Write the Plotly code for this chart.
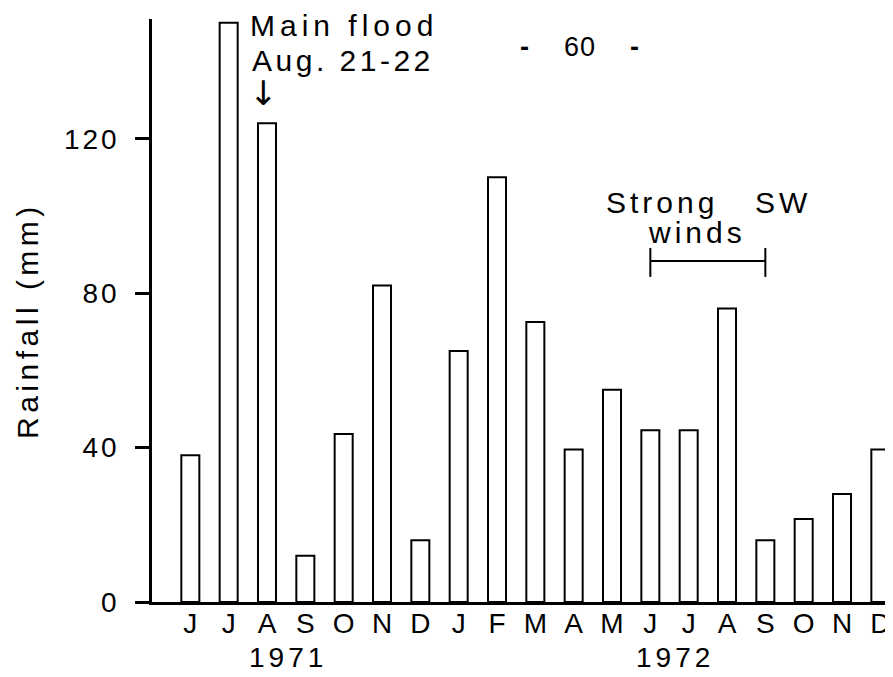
import plotly.graph_objects as go
import numpy as np

# ---- data ----
months = ["J", "J", "A", "S", "O", "N", "D",
          "J", "F", "M", "A", "M", "J", "J", "A", "S", "O", "N", "D"]
rainfall_mm = [38, 150, 124, 12, 43.5, 82, 16,
               65, 110, 72.5, 39.5, 55, 44.5, 44.5, 76, 16, 21.5, 28, 39.5]
year_labels = ["1971", "1972"]
y_ticks = [0, 40, 80, 120]

# ---- layout geometry (page body has an 8px margin) ----
OFF = 8
W, H = 893 - OFF, 677 - OFF
PLOT_L, PLOT_B, PLOT_T = 152, 602, 19  # plot area in screen pixels
L, R, T = PLOT_L - OFF, 0, PLOT_T - OFF
B = H + OFF - PLOT_B
PW, PH = W - L - R, H - T - B
FONT = "Liberation Sans"


def px(xp):
    return (xp - PLOT_L) / PW


def py(yp):
    return (PLOT_B - yp) / PH


def sp(t, ls=4):
    return f'<span style="letter-spacing:{ls}px">{t}</span>'


x = np.arange(len(months))

fig = go.Figure(
    go.Bar(
        x=x, y=rainfall_mm, width=0.47,
        marker=dict(color="white", line=dict(color="black", width=2)),
    )
)

ann = []


def add(text, xp, yp, size=30, xanchor="left", font=FONT, angle=0, ls=4):
    ann.append(dict(text=sp(text, ls), x=px(xp), y=py(yp), xref="paper", yref="paper",
                    xanchor=xanchor, yanchor="middle", showarrow=False, textangle=angle,
                    font=dict(family=font, size=size, color="black")))


add("Main flood", 248, 26, ls=5)
add("Aug. 21-22", 250, 60, ls=3.5)
add("↓", 263, 93, size=34, xanchor="center", font="DejaVu Sans", ls=0)
add("Strong", 604, 202)
add("SW", 753, 202)
add("winds", 646, 233)
add(year_labels[0], 288, 657, size=28, xanchor="center")
add(year_labels[1], 675, 657, size=28, xanchor="center")
add("Rainfall (mm)", 27, 320, size=30, xanchor="center", angle=-90, ls=4.5)
add("<b>-</b>\u00a0\u00a0\u00a0\u00a060\u00a0\u00a0\u00a0\u00a0<b>-</b>", 580, 47, size=27,
    xanchor="center", ls=1)

# bracket for strong SW winds (June-Sept 1972)
i0, i1 = 12, 15
yb, yb_lo, yb_hi = 88.3, 84.2, 91.7
shapes = [
    dict(type="line", xref="x", yref="y", x0=i0, x1=i1, y0=yb, y1=yb,
         line=dict(color="black", width=2)),
    dict(type="line", xref="x", yref="y", x0=i0, x1=i0, y0=yb_lo, y1=yb_hi,
         line=dict(color="black", width=2)),
    dict(type="line", xref="x", yref="y", x0=i1, x1=i1, y0=yb_lo, y1=yb_hi,
         line=dict(color="black", width=2)),
]

fig.update_layout(
    width=W, height=H,
    margin=dict(l=L, r=R, t=T, b=B, pad=0),
    paper_bgcolor="white", plot_bgcolor="white",
    showlegend=False,
    font=dict(family=FONT, size=28, color="black"),
    annotations=ann,
    shapes=shapes,
    xaxis=dict(
        range=[-1.0, 18.33], tickmode="array", tickvals=x,
        ticktext=[sp(m, 0) for m in months],
        ticks="", showline=True, linecolor="black", linewidth=2.5,
        showgrid=False, zeroline=False, ticklabelstandoff=-5,
        tickfont=dict(family=FONT, size=28, color="black"),
    ),
    yaxis=dict(
        range=[0, 151], tickmode="array", tickvals=y_ticks,
        ticktext=[sp(str(v), 3) for v in y_ticks],
        ticks="outside", ticklen=14, tickwidth=2.5, tickcolor="black",
        showline=True, linecolor="black", linewidth=2.5,
        showgrid=False, zeroline=False, ticklabelstandoff=10,
        tickfont=dict(family=FONT, size=28, color="black"),
    ),
)

fig.write_html("out.html")
